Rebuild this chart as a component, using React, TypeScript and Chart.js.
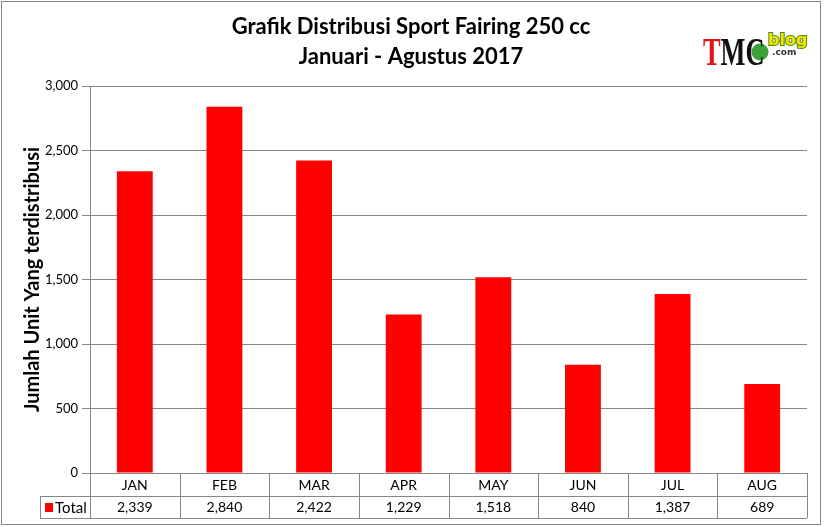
import { useEffect, useRef } from "react"
import { Chart, registerables } from "chart.js"

Chart.register(...registerables)

const months = ["JAN", "FEB", "MAR", "APR", "MAY", "JUN", "JUL", "AUG"]
const totals = [2339, 2840, 2422, 1229, 1518, 840, 1387, 689]
const seriesName = "Total"
const titleLines = ["Grafik Distribusi Sport Fairing 250 cc", "Januari - Agustus 2017"]
const yTitle = "Jumlah Unit Yang terdistribusi"

const FONT = "Lato, 'Open Sans', sans-serif"
const LINE = "#878787"

const fmt = (v: number) => v.toLocaleString("en-US")

const decorPlugin = {
  id: "decor",
  afterDraw(chart: Chart) {
    const ctx = chart.ctx
    const area = chart.chartArea
    const x = chart.scales.x
    ctx.save()

    // outer frame
    ctx.strokeStyle = LINE
    ctx.lineWidth = 1
    ctx.strokeRect(1.5, 1.5, 819, 523)

    // title
    ctx.fillStyle = "#000"
    ctx.textAlign = "center"
    ctx.textBaseline = "middle"
    ctx.font = `bold 22px ${FONT}`
    ctx.fillText(titleLines[0], 411, 27)
    ctx.fillText(titleLines[1], 411, 57)

    // y axis title
    ctx.save()
    ctx.translate(33, (area.top + area.bottom) / 2)
    ctx.rotate(-Math.PI / 2)
    ctx.font = `bold 20px ${FONT}`
    ctx.fillText(yTitle, 0, 0)
    ctx.restore()

    // data table
    const rowH = 22.5
    const top = area.bottom
    const mid = top + rowH
    const bottom = mid + rowH
    const colW = (area.right - area.left) / months.length
    ctx.strokeStyle = LINE
    ctx.beginPath()
    ctx.moveTo(area.left, top + 0.5)
    ctx.lineTo(area.right, top + 0.5)
    ctx.moveTo(40, Math.round(mid) + 0.5)
    ctx.lineTo(area.right, Math.round(mid) + 0.5)
    ctx.moveTo(40, Math.round(bottom) + 0.5)
    ctx.lineTo(area.right, Math.round(bottom) + 0.5)
    ctx.moveTo(40.5, Math.round(mid))
    ctx.lineTo(40.5, Math.round(bottom))
    for (let i = 0; i <= months.length; i++) {
      const px = Math.round(area.left + i * colW) + 0.5
      ctx.moveTo(px, top)
      ctx.lineTo(px, Math.round(bottom))
    }
    ctx.stroke()

    ctx.fillStyle = "#000"
    ctx.font = `14px ${FONT}`
    ctx.textAlign = "center"
    months.forEach((m, i) => {
      const cx = x.getPixelForValue(i)
      ctx.fillText(m, cx, top + rowH / 2 + 1)
      ctx.fillText(fmt(totals[i]), cx, mid + rowH / 2 + 1)
    })
    ctx.fillStyle = "#ff0000"
    ctx.fillRect(45, 503, 8, 9)
    ctx.fillStyle = "#000"
    ctx.textAlign = "left"
    ctx.font = `15px ${FONT}`
    ctx.fillText(seriesName, 55, mid + rowH / 2 + 1)

    // logo
    ctx.beginPath()
    ctx.arc(760, 52, 8.5, 0, Math.PI * 2)
    ctx.fillStyle = "#3aa33a"
    ctx.fill()
    ctx.save()
    ctx.translate(703, 65)
    ctx.scale(0.66, 1)
    ctx.textBaseline = "alphabetic"
    ctx.font = `bold 40px 'Liberation Serif', serif`
    ctx.fillStyle = "#e3141b"
    ctx.fillText("T", 0, 0)
    const tw = ctx.measureText("T").width
    ctx.fillStyle = "#111"
    ctx.fillText("MC", tw, 0)
    ctx.restore()
    ctx.font = `bold 16px 'DejaVu Sans', sans-serif`
    ctx.textBaseline = "alphabetic"
    ctx.lineWidth = 2
    ctx.strokeStyle = "#4a8a1c"
    ctx.strokeText("blog", 768, 45)
    ctx.fillStyle = "#f5e400"
    ctx.fillText("blog", 768, 45)
    ctx.font = `bold 9px 'DejaVu Sans', sans-serif`
    ctx.fillStyle = "#333"
    ctx.fillText(".com", 772, 55)

    ctx.restore()
  },
}

export default function App() {
  const chartRef = useRef<HTMLCanvasElement>(null)
  const chartInstance = useRef<Chart | null>(null)

  useEffect(() => {
    document.body.style.margin = "0"
    if (chartRef.current) {
      if (chartInstance.current) {
        chartInstance.current.destroy()
      }
      const ctx = chartRef.current.getContext("2d")
      if (ctx) {
        chartInstance.current = new Chart(ctx, {
          type: "bar",
          data: {
            labels: months,
            datasets: [
              {
                label: seriesName,
                data: totals,
                backgroundColor: "#ff0000",
                borderWidth: 0,
                barPercentage: 0.4,
                categoryPercentage: 1,
              },
            ],
          },
          options: {
            responsive: false,
            animation: false,
            layout: {
              padding: { top: 86, left: 0, right: 17, bottom: 9 },
            },
            plugins: {
              legend: { display: false },
              tooltip: { enabled: false },
              title: { display: false },
            },
            scales: {
              x: {
                ticks: { display: false },
                grid: { display: false },
                border: { display: true, color: LINE },
                afterFit: (s: any) => {
                  s.height = 45
                },
              },
              y: {
                min: 0,
                max: 3000,
                ticks: {
                  stepSize: 500,
                  padding: 4,
                  color: "#000",
                  font: { family: FONT, size: 13 },
                  callback: (v: any) => fmt(Number(v)),
                },
                grid: {
                  color: LINE,
                  tickLength: 8,
                  tickColor: LINE,
                },
                border: { display: true, color: LINE },
                afterFit: (s: any) => {
                  s.width = 90
                },
              },
            },
          },
          plugins: [decorPlugin],
        })
      }
    }
    return () => {
      if (chartInstance.current) {
        chartInstance.current.destroy()
        chartInstance.current = null
      }
    }
  }, [])

  return (
    <div style={{ width: 824, height: 527, background: "#fff" }}>
      <canvas ref={chartRef} width={824} height={527} />
    </div>
  )
}
